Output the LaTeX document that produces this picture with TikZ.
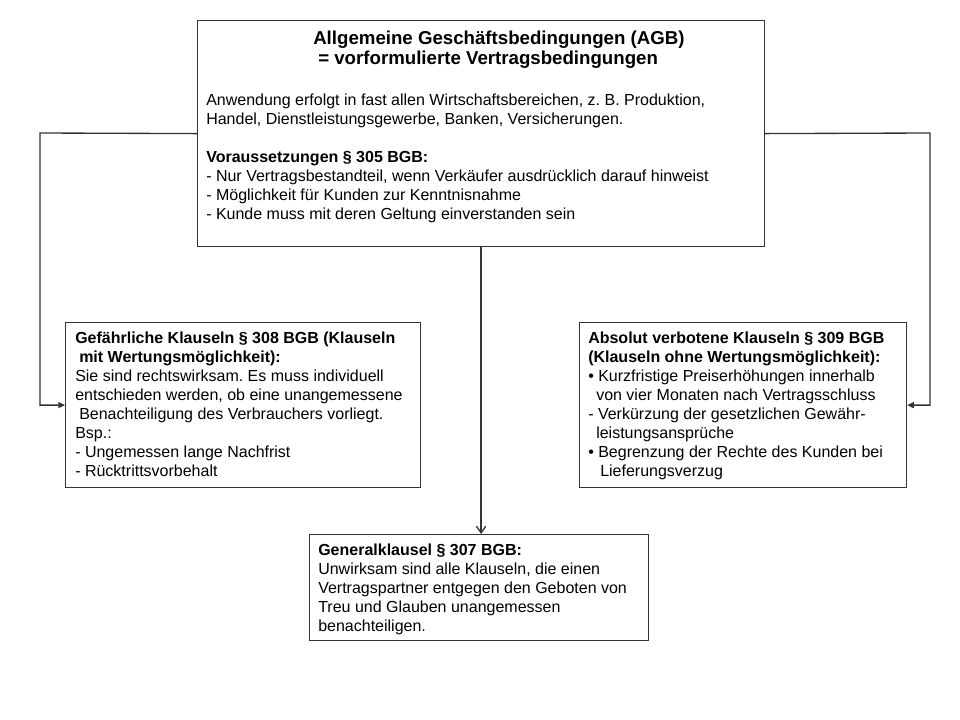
\documentclass[tikz,border=0pt]{standalone}
\usepackage{fontspec}
\setmainfont{Liberation Sans}
\usetikzlibrary{arrows.meta}
\frenchspacing
\begin{document}
\begin{tikzpicture}[x=0.75pt,y=-0.75pt,
  box/.style={draw=black!80, line width=0.9pt, rectangle, inner sep=0pt, anchor=north west},
  txt/.style={anchor=north west, inner sep=0pt, align=left, font=\fontsize{12}{14.25}\selectfont\frenchspacing},
  ttl/.style={anchor=north west, inner sep=0pt, align=left, font=\bfseries\fontsize{14}{15}\selectfont},
  conn/.style={draw=black!80, line width=1pt},
  filledtip/.style={-{Triangle[length=5pt,width=4.5pt]}},
  opentip/.style={-{Straight Barb[length=5pt,width=7pt]}}]
\useasboundingbox (0,0) rectangle (960,720);
% boxes
\node[box, minimum width=425.25pt, minimum height=169.5pt] (top) at (197,20) {};
\node[box, minimum width=266.25pt, minimum height=123.75pt] (left) at (65,322) {};
\node[box, minimum width=245.25pt, minimum height=123.75pt] (right) at (579,322) {};
\node[box, minimum width=254.25pt, minimum height=79.5pt] (bot) at (309,534) {};
% texts
\node[ttl] (title) at (313,31) {Allgemeine Geschäftsbedingungen (AGB)\\\hspace{3.75pt}= vorformulierte Vertragsbedingungen};
\node[txt] (toptext) at (206,94) {Anwendung erfolgt in fast allen Wirtschaftsbereichen, z. B. Produktion,\\
Handel, Dienstleistungsgewerbe, Banken, Versicherungen.\\[14.25pt]
\textbf{Voraussetzungen § 305 BGB:}\\
- Nur Vertragsbestandteil, wenn Verkäufer ausdrücklich darauf hinweist\\
- Möglichkeit für Kunden zur Kenntnisnahme\\
- Kunde muss mit deren Geltung einverstanden sein};
\node[txt] (lefttext) at (75,332) {\textbf{Gefährliche Klauseln § 308 BGB (Klauseln}\\
\hspace{3pt}\textbf{mit Wertungsmöglichkeit):}\\
Sie sind rechtswirksam. Es muss individuell\\
entschieden werden, ob eine unangemessene\\
\hspace{3pt}Benachteiligung des Verbrauchers vorliegt.\\
Bsp.:\\
- Ungemessen lange Nachfrist\\
- Rücktrittsvorbehalt};
\node[txt] (righttext) at (588,332) {\textbf{Absolut verbotene Klauseln § 309 BGB}\\
\textbf{(Klauseln ohne Wertungsmöglichkeit):}\\
• Kurzfristige Preiserhöhungen innerhalb\\
\hspace{6pt}von vier Monaten nach Vertragsschluss\\
- Verkürzung der gesetzlichen Gewähr-\\
\hspace{6pt}leistungsansprüche\\
• Begrenzung der Rechte des Kunden bei\\
\hspace{9pt}Lieferungsverzug};
\node[txt] (bottext) at (318,544) {\textbf{Generalklausel § 307 BGB:}\\
Unwirksam sind alle Klauseln, die einen\\
Vertragspartner entgegen den Geboten von\\
Treu und Glauben unangemessen\\
benachteiligen.};
% connectors
\coordinate (lc) at (40,133);
\coordinate (rc) at (930,133);
\draw[conn, filledtip] (top.west) -- (lc) |- (left.west);
\draw[conn, filledtip] (top.east) -- (rc) |- (right.east);
\draw[conn, opentip] (top.south) -- (top.south |- bot.north);
\end{tikzpicture}
\end{document}
